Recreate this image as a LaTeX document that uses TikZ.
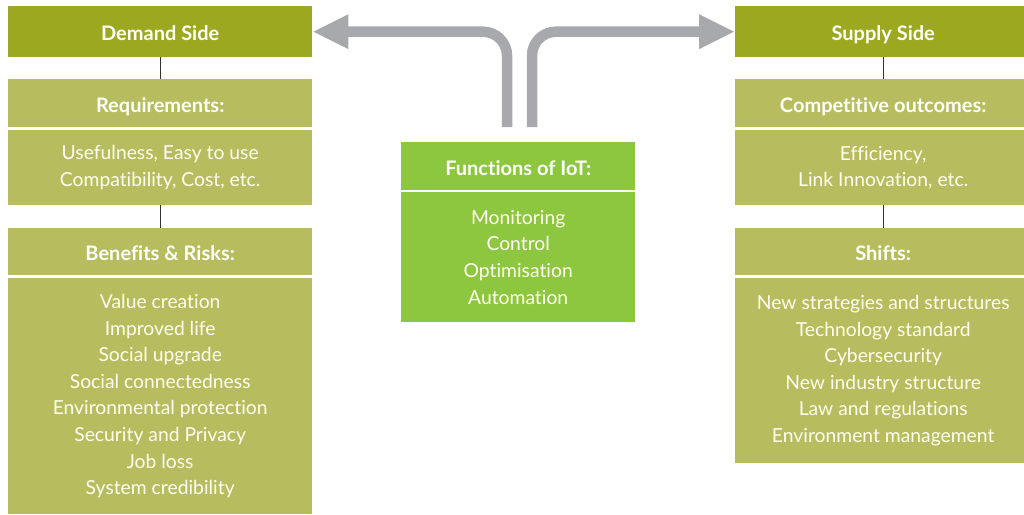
\documentclass[tikz,border=0pt]{standalone}
\usepackage{fontspec}
\setmainfont[Ligatures=NoCommon]{Lato}
\usetikzlibrary{arrows.meta}
\definecolor{olivedark}{HTML}{9CA81F}
\definecolor{olivelight}{HTML}{B7BD5E}
\definecolor{leafgreen}{HTML}{8DC63F}
\definecolor{arrowgrey}{HTML}{A7A9AC}
\definecolor{linkgrey}{HTML}{333333}
\colorlet{bodytext}{white!94!yellow}
\tikzset{
  tile/.style={anchor=north west, inner sep=0pt, text=white, align=center},
  title/.style={font=\bfseries\fontsize{20}{24}\selectfont, text height=20pt, text depth=2pt},
  sidebox/.style={tile, title, fill=olivedark},
  headbox/.style={tile, title, fill=olivelight},
  bodybox/.style={tile, fill=olivelight, text=bodytext, font=\fontsize{19.3}{26.6}\selectfont},
  funchead/.style={tile, title, fill=leafgreen},
  funcbody/.style={tile, fill=leafgreen, text=bodytext, font=\fontsize{19.3}{26.6}\selectfont},
  link/.style={draw=linkgrey, line width=1.3pt},
  bigarrow/.style={draw=arrowgrey, line width=10.5pt, rounded corners=24pt,
    -{Triangle[length=36pt, width=32pt]}}
}
\begin{document}
\begin{tikzpicture}[x=1pt, y=-1pt]
\useasboundingbox (0,0) rectangle (1024,514);
\clip (0,0) rectangle (1024,514);

% demand column
\node[sidebox, minimum width=304pt, minimum height=51pt] (demand) at (8,6) {Demand Side};
\node[headbox, minimum width=304pt, minimum height=48pt] (reqh) at (8,79) {Requirements:};
\node[bodybox, minimum width=304pt, minimum height=75pt] (reqb) at (8,130)
  {Usefulness, Easy to use\\Compatibility, Cost, etc.};
\node[headbox, minimum width=304pt, minimum height=47pt] (benh) at (8,228) {Benefits \& Risks:};
\node[bodybox, minimum width=304pt, minimum height=236pt] (benb) at (8,278)
  {Value creation\\Improved life\\Social upgrade\\Social connectedness\\Environmental protection\\Security and Privacy\\Job loss\\System credibility};

% supply column
\node[sidebox, minimum width=296pt, minimum height=51pt] (supply) at (735,6) {Supply Side};
\node[headbox, minimum width=296pt, minimum height=48pt] (comph) at (735,79) {Competitive outcomes:};
\node[bodybox, minimum width=296pt, minimum height=75pt] (compb) at (735,130)
  {Efficiency,\\Link Innovation, etc.};
\node[headbox, minimum width=296pt, minimum height=47pt] (shifth) at (735,228) {Shifts:};
\node[bodybox, minimum width=296pt, minimum height=185pt] (shiftb) at (735,278)
  {New strategies and structures\\Technology standard\\Cybersecurity\\New industry structure\\Law and regulations\\Environment management};

% functions in the middle
\node[funchead, minimum width=234pt, minimum height=48pt] (funch) at (401,142) {Functions of IoT:};
\node[funcbody, minimum width=234pt, minimum height=130pt] (funcb) at (401,192)
  {Monitoring\\Control\\Optimisation\\Automation};

% vertical links
\draw[link] (demand.south) -- (reqh.north);
\draw[link] (reqb.south) -- (benh.north);
\draw[link] (supply.south) -- (comph.north);
\draw[link] (compb.south) -- (shifth.north);

% arrows out to both sides
\coordinate (lstart) at (507,127);
\coordinate (rstart) at (532,127);
\draw[bigarrow] (lstart) |- (demand.east);
\draw[bigarrow] (rstart) |- (supply.west);
\end{tikzpicture}
\end{document}
